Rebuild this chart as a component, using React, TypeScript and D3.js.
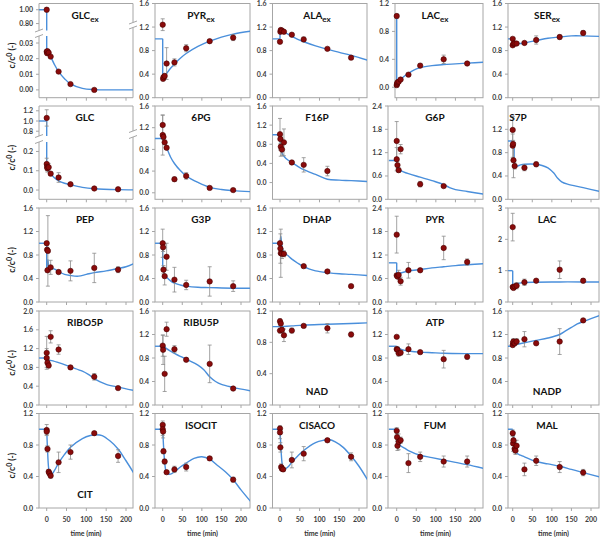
import React from 'react';
import * as d3 from 'd3';

// measured points: [time (min), c/c0, sd]; model fits: [time (min), c/c0]
const GLCex_pts = [[0, 1.0, 0.03], [0, 0.0245, 0.0008], [1, 0.0235, 0.0008], [2, 0.0248, 0.0008], [5, 0.0238, 0.0008], [10, 0.0213, 0.0007], [30, 0.0117, 0.0005], [60, 0.0037, 0.0004], [120, 0.0, 0.0003]];
const GLCex_fitHi = [[-20, 1], [0, 1], [0, 0.6]];
const GLCex_fit = [[0, 0.04], [0, 0.025], [5, 0.0236], [10, 0.0213], [20, 0.016], [30, 0.0117], [45, 0.0072], [60, 0.0038], [90, 0.001], [120, 0.0002], [160, 0], [225, 0]];

const PYRex_pts = [[0, 1.24, 0.1], [1, 0.32, 0.03], [2, 0.35, 0.03], [5, 0.37, 0.04], [10, 0.58, 0.27], [30, 0.6, 0.06], [60, 0.84, 0.06], [120, 0.96, 0.02], [180, 1.02, 0.05]];
const PYRex_fit = [[-20, 1], [0, 1], [0, 0.31], [5, 0.36], [10, 0.41], [20, 0.5], [30, 0.57], [45, 0.67], [60, 0.75], [90, 0.87], [120, 0.96], [150, 1.03], [180, 1.08], [225, 1.13]];

const ALAex_pts = [[0, 0.95, 0.02], [1, 1.12, 0.02], [2, 1.15, 0.02], [5, 1.14, 0.02], [10, 1.12, 0.02], [30, 1.07, 0.02], [60, 0.99, 0.04], [120, 0.83, 0.02], [180, 0.68, 0.03]];
const ALAex_fit = [[-20, 1], [0, 1], [0, 1.13], [5, 1.13], [10, 1.11], [20, 1.08], [30, 1.04], [45, 0.99], [60, 0.95], [90, 0.88], [120, 0.82], [150, 0.77], [180, 0.72], [225, 0.63]];

const LACex_pts = [[0, 1.02, 0.03], [0, 0.03, 0.01], [1, 0.05, 0.01], [2, 0.07, 0.01], [5, 0.08, 0.01], [10, 0.11, 0.02], [30, 0.18, 0.02], [60, 0.31, 0.03], [120, 0.4, 0.06], [180, 0.34, 0.02]];
const LACex_fit = [[-20, 1], [0, 1], [0, 0.02], [5, 0.07], [10, 0.11], [20, 0.16], [30, 0.2], [45, 0.25], [60, 0.28], [90, 0.31], [120, 0.325], [150, 0.335], [180, 0.345], [225, 0.36]];

const SERex_pts = [[0, 1.0, 0.02], [0, 0.89, 0.02], [2, 0.92, 0.02], [5, 0.92, 0.03], [10, 0.92, 0.02], [30, 0.93, 0.02], [60, 0.98, 0.07], [120, 1.03, 0.04], [180, 1.1, 0.04]];
const SERex_fit = [[-20, 1], [0, 1], [5, 0.95], [10, 0.93], [20, 0.92], [30, 0.93], [60, 0.97], [90, 1.01], [120, 1.03], [150, 1.05], [180, 1.05], [225, 1.04]];

const GLC_pts = [[0, 1.06, 0.16], [0, 0.135, 0.03], [1, 0.12, 0.02], [2, 0.113, 0.02], [5, 0.118, 0.02], [10, 0.085, 0.01], [30, 0.065, 0.025], [60, 0.03, 0.005], [120, 0.008, 0.003], [180, 0.004, 0.002]];
const GLC_fitHi = [[-20, 1], [0, 1], [0, 0.6]];
const GLC_fit = [[0, 0.3], [0, 0.14], [2, 0.115], [5, 0.1], [10, 0.085], [20, 0.062], [30, 0.048], [45, 0.035], [60, 0.027], [90, 0.014], [120, 0.007], [180, 0.002], [225, 0.001]];

const PG6_pts = [[0, 1.25, 0.18], [0, 1.065, 0.37], [2, 1.03, 0.05], [5, 0.93, 0.04], [10, 0.83, 0.03], [30, 0.25, 0.04], [60, 0.31, 0.06], [120, 0.09, 0.02], [180, 0.05, 0.02]];
const PG6_fit = [[-20, 1], [0, 1], [5, 0.93], [10, 0.83], [20, 0.66], [30, 0.54], [45, 0.41], [60, 0.31], [90, 0.19], [120, 0.1], [150, 0.06], [180, 0.04], [225, 0.02]];

const F16P_pts = [[0, 1.01, 0.33], [1, 0.91, 0.1], [2, 0.75, 0.2], [5, 0.69, 0.12], [10, 0.84, 0.28], [30, 0.42, 0.03], [60, 0.37, 0.15], [120, 0.24, 0.1]];
const F16P_fit = [[-20, 1], [0, 1], [2, 0.75], [5, 0.62], [10, 0.55], [20, 0.47], [30, 0.42], [45, 0.34], [60, 0.27], [90, 0.17], [120, 0.07], [150, 0.05], [180, 0.04], [225, 0.02]];

const G6P_pts = [[0, 1.5, 0.5], [0, 1.03, 0.3], [2, 0.88, 0.1], [5, 0.75, 0.06], [10, 1.29, 0.12], [60, 0.39, 0.07], [120, 0.34, 0.03]];
const G6P_fit = [[-20, 1], [0, 1], [0, 0.85], [5, 0.78], [10, 0.74], [30, 0.66], [60, 0.57], [90, 0.48], [120, 0.38], [135, 0.3], [150, 0.25], [180, 0.2], [225, 0.13]];

const S7P_pts = [[0, 1.19, 0.23], [0, 0.92, 0.2], [1, 0.95, 0.06], [2, 0.67, 0.3], [5, 0.57, 0.05], [30, 0.54, 0.05], [60, 0.6, 0.04]];
const S7P_fit = [[-20, 1], [0, 1], [3, 0.95], [5, 0.62], [10, 0.57], [20, 0.59], [30, 0.6], [60, 0.6], [75, 0.58], [90, 0.54], [105, 0.45], [115, 0.36], [125, 0.3], [140, 0.26], [180, 0.2], [225, 0.13]];

const PEP_pts = [[0, 1.0, 0.03], [1, 0.89, 0.03], [3, 0.87, 0.6], [2, 0.54, 0.03], [10, 0.59, 0.12], [30, 0.51, 0.03], [60, 0.53, 0.17], [120, 0.58, 0.25], [180, 0.55, 0.05]];
const PEP_fit = [[-20, 1], [0, 1], [0, 0.58], [3, 0.72], [5, 0.62], [10, 0.58], [20, 0.56], [30, 0.52], [45, 0.47], [60, 0.45], [80, 0.44], [100, 0.47], [120, 0.5], [150, 0.53], [180, 0.57], [200, 0.6], [225, 0.67]];

const G3P_pts = [[0, 1.0, 0.24], [1, 0.93, 0.07], [2, 0.55, 0.07], [5, 0.44, 0.15], [10, 0.77, 0.23], [30, 0.38, 0.21], [60, 0.29, 0.08], [120, 0.35, 0.25], [180, 0.27, 0.09]];
const G3P_fit = [[-20, 1], [0, 1], [0, 0.6], [3, 0.5], [5, 0.46], [10, 0.42], [20, 0.36], [30, 0.32], [45, 0.29], [60, 0.27], [90, 0.25], [120, 0.245], [180, 0.235], [225, 0.235]];

const DHAP_pts = [[0, 1.0, 0.03], [1, 0.91, 0.25], [2, 0.83, 0.41], [5, 0.82, 0.08], [10, 0.82, 0.05], [60, 0.61, 0.02], [120, 0.52, 0.02], [180, 0.27, 0.02]];
const DHAP_fit = [[-20, 1], [0, 1], [2, 1.12], [5, 0.95], [10, 0.85], [20, 0.79], [30, 0.73], [45, 0.66], [60, 0.6], [75, 0.56], [90, 0.53], [120, 0.5], [150, 0.48], [180, 0.47], [225, 0.45]];

const PYR_pts = [[0, 1.72, 0.47], [0, 0.68, 0.05], [2, 0.65, 0.05], [5, 0.69, 0.12], [10, 0.53, 0.1], [30, 0.81, 0.2], [60, 0.81, 0.03], [120, 1.38, 0.3], [180, 1.02, 0.08]];
const PYR_fit = [[-20, 1], [0, 1], [0, 0.68], [5, 0.72], [10, 0.74], [30, 0.79], [60, 0.83], [90, 0.87], [120, 0.9], [150, 0.93], [180, 0.95], [225, 0.98]];

const LAC_pts = [[0, 2.39, 0.44], [0, 0.48, 0.05], [2, 0.45, 0.05], [5, 0.5, 0.05], [10, 0.52, 0.1], [30, 0.63, 0.1], [60, 0.68, 0.04], [120, 1.03, 0.28], [180, 0.68, 0.07]];
const LAC_fit = [[-20, 1], [0, 1], [0, 0.52], [5, 0.56], [10, 0.59], [30, 0.62], [60, 0.63], [120, 0.64], [180, 0.64], [225, 0.64]];

const RIBO5P_pts = [[0, 1.11, 0.35], [0, 1.0, 0.2], [2, 0.9, 0.05], [5, 0.84, 0.05], [10, 1.45, 0.13], [30, 1.18, 0.1], [60, 0.8, 0.02], [120, 0.6, 0.07], [180, 0.36, 0.02]];
const RIBO5P_fit = [[-20, 1], [0, 1], [0, 0.93], [5, 0.95], [10, 0.95], [30, 0.9], [60, 0.81], [90, 0.72], [105, 0.65], [120, 0.56], [135, 0.49], [150, 0.44], [180, 0.38], [225, 0.3]];

const RIBU5P_pts = [[0, 1.01, 0.18], [1, 0.94, 0.25], [5, 0.53, 0.3], [10, 1.29, 0.12], [30, 0.95, 0.06], [60, 0.77, 0.03], [120, 0.7, 0.32], [180, 0.28, 0.02]];
const RIBU5P_fit = [[-20, 1], [0, 1], [5, 0.99], [10, 0.96], [30, 0.88], [60, 0.78], [90, 0.68], [105, 0.6], [120, 0.48], [135, 0.4], [150, 0.35], [180, 0.3], [225, 0.24]];

const NAD_pts = [[0, 1.07, 0.03], [2, 1.04, 0.03], [0, 0.95, 0.03], [5, 0.96, 0.03], [10, 0.89, 0.08], [30, 0.95, 0.03], [60, 1.01, 0.02], [120, 0.98, 0.06], [180, 0.9, 0.03]];
const NAD_fit = [[-20, 1], [0, 1], [30, 1.01], [60, 1.02], [120, 1.03], [180, 1.04], [225, 1.05]];

const ATP_pts = [[0, 1.16, 0.02], [0, 0.95, 0.04], [2, 0.94, 0.05], [5, 0.88, 0.05], [10, 0.89, 0.04], [30, 0.95, 0.09], [60, 0.9, 0.02], [120, 0.78, 0.15], [180, 0.82, 0.04]];
const ATP_fit = [[-20, 1], [0, 1], [5, 0.98], [10, 0.95], [20, 0.93], [30, 0.92], [60, 0.9], [90, 0.89], [120, 0.88], [180, 0.875], [225, 0.875]];

const NADP_pts = [[0, 1.02, 0.03], [1, 1.06, 0.05], [2, 1.08, 0.05], [5, 1.05, 0.04], [10, 1.08, 0.05], [30, 1.12, 0.13], [60, 1.05, 0.02], [120, 1.08, 0.22], [180, 1.44, 0.02]];
const NADP_fit = [[-20, 1], [0, 1], [10, 1.03], [30, 1.06], [60, 1.1], [90, 1.14], [120, 1.2], [135, 1.26], [150, 1.32], [165, 1.38], [180, 1.42], [200, 1.47], [225, 1.53]];

const CIT_pts = [[0, 0.99, 0.07], [0, 0.97, 0.04], [2, 0.75, 0.04], [5, 0.46, 0.03], [7, 0.44, 0.03], [10, 0.41, 0.03], [30, 0.58, 0.13], [60, 0.71, 0.09], [120, 0.95, 0.02], [180, 0.66, 0.08]];
const CIT_fit = [[-20, 1], [0, 1], [2, 0.75], [5, 0.5], [8, 0.43], [10, 0.42], [15, 0.44], [20, 0.48], [30, 0.57], [45, 0.68], [60, 0.77], [90, 0.88], [110, 0.92], [125, 0.93], [140, 0.92], [160, 0.85], [180, 0.75], [200, 0.6], [225, 0.4]];

const ISOCIT_pts = [[0, 1.055, 0.05], [0, 1.0, 0.08], [1, 0.97, 0.08], [2, 0.72, 0.03], [5, 0.59, 0.03], [10, 0.455, 0.02], [30, 0.49, 0.04], [60, 0.52, 0.05], [120, 0.63, 0.02], [180, 0.36, 0.03]];
const ISOCIT_fit = [[-20, 1], [0, 1], [2, 0.8], [5, 0.58], [8, 0.47], [10, 0.44], [20, 0.43], [30, 0.46], [45, 0.52], [60, 0.57], [80, 0.63], [100, 0.65], [120, 0.62], [140, 0.54], [160, 0.46], [180, 0.36], [200, 0.23], [225, 0.08]];

const CISACO_pts = [[0, 1.01, 0.03], [0, 0.96, 0.08], [1, 0.77, 0.06], [3, 0.52, 0.04], [5, 0.5, 0.03], [8, 0.49, 0.02], [30, 0.61, 0.1], [60, 0.69, 0.09], [120, 0.86, 0.02], [180, 0.65, 0.05]];
const CISACO_fit = [[-20, 1], [0, 1], [2, 0.8], [5, 0.58], [8, 0.5], [10, 0.49], [20, 0.52], [30, 0.58], [45, 0.66], [60, 0.73], [90, 0.83], [110, 0.86], [125, 0.87], [140, 0.84], [160, 0.77], [180, 0.66], [200, 0.53], [225, 0.33]];

const FUM_pts = [[0, 0.98, 0.04], [1, 0.9, 0.05], [2, 0.79, 0.06], [5, 0.84, 0.1], [10, 0.86, 0.04], [30, 0.57, 0.12], [60, 0.65, 0.06], [120, 0.59, 0.07], [180, 0.59, 0.07]];
const FUM_fit = [[-20, 1], [0, 1], [2, 0.92], [5, 0.84], [10, 0.79], [20, 0.76], [30, 0.73], [60, 0.67], [90, 0.64], [120, 0.61], [150, 0.58], [180, 0.55], [225, 0.5]];

const MAL_pts = [[0, 0.95, 0.04], [1, 0.82, 0.1], [2, 0.86, 0.1], [5, 0.75, 0.05], [7, 0.73, 0.05], [10, 0.79, 0.07], [30, 0.49, 0.08], [60, 0.6, 0.06], [120, 0.52, 0.07], [180, 0.45, 0.04]];
const MAL_fit = [[-20, 1], [0, 1], [2, 0.93], [5, 0.8], [10, 0.7], [20, 0.67], [30, 0.65], [60, 0.59], [90, 0.56], [120, 0.53], [150, 0.49], [180, 0.45], [225, 0.39]];

const X_TICKS = [0, 50, 100, 150, 200];
const T16 = [0, 0.4, 0.8, 1.2, 1.6];
const T12 = [0, 0.4, 0.8, 1.2];
const T24 = [0, 0.6, 1.2, 1.8, 2.4];

const PANELS = [
  { id: 'GLCex', name: 'GLC', sub: 'ex', row: 0, col: 0, fmt: '.2f', bands: [{ domain: [-0.005, 0.0345], ticks: [0, 0.01, 0.02, 0.03] }, { domain: [0.7, 1.09], ticks: [0.8, 1.0] }], pts: GLCex_pts, fits: [GLCex_fit, GLCex_fitHi] },
  { id: 'PYRex', name: 'PYR', sub: 'ex', row: 0, col: 1, bands: [{ domain: [0, 1.6], ticks: T16 }], pts: PYRex_pts, fits: [PYRex_fit] },
  { id: 'ALAex', name: 'ALA', sub: 'ex', row: 0, col: 2, bands: [{ domain: [0, 1.6], ticks: T16 }], pts: ALAex_pts, fits: [ALAex_fit] },
  { id: 'LACex', name: 'LAC', sub: 'ex', row: 0, col: 3, bands: [{ domain: [-0.15, 1.2], ticks: T12 }], pts: LACex_pts, fits: [LACex_fit] },
  { id: 'SERex', name: 'SER', sub: 'ex', row: 0, col: 4, bands: [{ domain: [0, 1.6], ticks: T16 }], pts: SERex_pts, fits: [SERex_fit] },
  { id: 'GLC', name: 'GLC', row: 1, col: 0, bands: [{ domain: [-0.048, 0.249], ticks: [0, 0.1, 0.2] }, { domain: [0.706, 1.294], ticks: [0.8, 1.0, 1.2] }], pts: GLC_pts, fits: [GLC_fit, GLC_fitHi] },
  { id: '6PG', name: '6PG', row: 1, col: 1, bands: [{ domain: [-0.12, 1.6], ticks: T16 }], pts: PG6_pts, fits: [PG6_fit] },
  { id: 'F16P', name: 'F16P', row: 1, col: 2, bands: [{ domain: [-0.35, 1.6], ticks: T16 }], pts: F16P_pts, fits: [F16P_fit] },
  { id: 'G6P', name: 'G6P', row: 1, col: 3, bands: [{ domain: [0, 2.4], ticks: T24 }], pts: G6P_pts, fits: [G6P_fit] },
  { id: 'S7P', name: 'S7P', row: 1, col: 4, bands: [{ domain: [0, 1.6], ticks: T12 }], pts: S7P_pts, fits: [S7P_fit] },
  { id: 'PEP', name: 'PEP', row: 2, col: 0, bands: [{ domain: [0, 1.6], ticks: T16 }], pts: PEP_pts, fits: [PEP_fit] },
  { id: 'G3P', name: 'G3P', row: 2, col: 1, bands: [{ domain: [0, 1.6], ticks: T16 }], pts: G3P_pts, fits: [G3P_fit] },
  { id: 'DHAP', name: 'DHAP', row: 2, col: 2, bands: [{ domain: [0, 1.6], ticks: T16 }], pts: DHAP_pts, fits: [DHAP_fit] },
  { id: 'PYR', name: 'PYR', row: 2, col: 3, bands: [{ domain: [0, 2.4], ticks: T24 }], pts: PYR_pts, fits: [PYR_fit] },
  { id: 'LAC', name: 'LAC', row: 2, col: 4, fmt: 'd', bands: [{ domain: [0, 3], ticks: [0, 1, 2, 3] }], pts: LAC_pts, fits: [LAC_fit] },
  { id: 'RIBO5P', name: 'RIBO5P', row: 3, col: 0, bands: [{ domain: [0, 2], ticks: [0, 0.4, 0.8, 1.2, 1.6, 2.0] }], pts: RIBO5P_pts, fits: [RIBO5P_fit] },
  { id: 'RIBU5P', name: 'RIBU5P', row: 3, col: 1, bands: [{ domain: [0, 1.6], ticks: T16 }], pts: RIBU5P_pts, fits: [RIBU5P_fit] },
  { id: 'NAD', name: 'NAD', row: 3, col: 2, bands: [{ domain: [0, 1.2], ticks: T12 }], pts: NAD_pts, fits: [NAD_fit] },
  { id: 'ATP', name: 'ATP', row: 3, col: 3, bands: [{ domain: [0, 1.6], ticks: T16 }], pts: ATP_pts, fits: [ATP_fit] },
  { id: 'NADP', name: 'NADP', row: 3, col: 4, bands: [{ domain: [0, 1.6], ticks: T16 }], pts: NADP_pts, fits: [NADP_fit] },
  { id: 'CIT', name: 'CIT', row: 4, col: 0, bands: [{ domain: [0, 1.2], ticks: T12 }], pts: CIT_pts, fits: [CIT_fit] },
  { id: 'ISOCIT', name: 'ISOCIT', row: 4, col: 1, bands: [{ domain: [0, 1.2], ticks: T12 }], pts: ISOCIT_pts, fits: [ISOCIT_fit] },
  { id: 'CISACO', name: 'CISACO', row: 4, col: 2, bands: [{ domain: [0, 1.2], ticks: T12 }], pts: CISACO_pts, fits: [CISACO_fit] },
  { id: 'FUM', name: 'FUM', row: 4, col: 3, bands: [{ domain: [0, 1.2], ticks: T12 }], pts: FUM_pts, fits: [FUM_fit] },
  { id: 'MAL', name: 'MAL', row: 4, col: 4, bands: [{ domain: [0, 1.2], ticks: T12 }], pts: MAL_pts, fits: [MAL_fit] },
];

// grid layout (px)
const COLS = [
  { left: 39, x0: 46.7, x200: 126, right: 133, title: 85 },
  { left: 155, x0: 162.7, x200: 241, right: 250, title: 201 },
  { left: 272.5, x0: 280, x200: 359, right: 367, title: 317 },
  { left: 388, x0: 396.7, x200: 475, right: 483, title: 435 },
  { left: 508, x0: 512.7, x200: 591, right: 599, title: 547 },
];
const ROWS = [
  { top: 3.5, bottom: 97.7 },
  { top: 106, bottom: 199.3 },
  { top: 208, bottom: 302 },
  { top: 311, bottom: 405 },
  { top: 413.5, bottom: 508 },
];
const OVERRIDES = { LACex: { left: 395 }, S7P: { title: 518 } };
const BREAKS = { GLCex: { hiEnd: 27, loStart: 32.5, rGap: [19, 24] }, GLC: { hiEnd: 30, loStart: 36, rGap: [25, 31] } };
const TITLE_BOTTOM = ['NAD', 'NADP', 'CIT'];

const FONT = 'Lato, "Liberation Sans", sans-serif';
const AXIS = '#a6a6a6';
const BLUE = '#4a8fdb';
const DOT = '#8a0b0b';

// break a fit into pieces at t = 0 and at vertical jumps, so steps stay sharp
function pieces(fit) {
  const out = [];
  let cur = [fit[0]];
  for (let i = 1; i < fit.length; i++) {
    const prev = fit[i - 1], d = fit[i];
    if (d[0] === prev[0]) {
      if (cur.length > 1) out.push(cur);
      out.push([prev, d]);
      cur = [d];
    } else {
      cur.push(d);
      if (d[0] === 0) { out.push(cur); cur = [d]; }
    }
  }
  if (cur.length > 1) out.push(cur);
  return out;
}

function Panel({ p }) {
  const c = { ...COLS[p.col], ...(OVERRIDES[p.id] || {}) };
  const r = ROWS[p.row];
  const x = d3.scaleLinear().domain([0, 200]).range([c.x0, c.x200]);
  const fmt = d3.format(p.fmt || '.1f');
  const br = BREAKS[p.id];

  // pixel extent of each band (lower first)
  const extents = br
    ? [[r.top + br.loStart, r.bottom], [r.top, r.top + br.hiEnd]]
    : [[r.top, r.bottom]];
  const scales = p.bands.map((b, i) =>
    d3.scaleLinear().domain(b.domain).range([extents[i][1], extents[i][0]])
  );
  const bandOf = v => (p.bands.length > 1 && v > p.bands[0].domain[1] ? 1 : 0);

  const frame = [];
  if (br) {
    const lo = extents[0], hi = extents[1];
    frame.push([c.left, r.top, c.right, r.top], [c.left, r.bottom, c.right, r.bottom]);
    frame.push([c.left, hi[0], c.left, hi[1]], [c.left, lo[0], c.left, lo[1]]);
    frame.push([c.right, r.top, c.right, r.top + br.rGap[0]], [c.right, r.top + br.rGap[1], c.right, r.bottom]);
    const slash = (ax, g0, g1) => {
      frame.push([ax - 4, g0 + 1.5, ax + 4, g0 - 1.5], [ax - 4, g1 + 1.5, ax + 4, g1 - 1.5]);
    };
    slash(c.left, hi[1], lo[0]);
    slash(c.right, r.top + br.rGap[0], r.top + br.rGap[1]);
  }

  const titleY = TITLE_BOTTOM.includes(p.id) ? r.bottom - 10 : r.top + 15;

  return (
    <g>
      <defs>
        {extents.map((e, i) => (
          <clipPath key={i} id={`clip-${p.id}-${i}`}>
            <rect x={c.left} y={e[0]} width={c.right - c.left} height={e[1] - e[0]} />
          </clipPath>
        ))}
      </defs>
      {br ? (
        frame.map((l, i) => <line key={i} x1={l[0]} y1={l[1]} x2={l[2]} y2={l[3]} stroke={AXIS} strokeWidth={1} />)
      ) : (
        <rect x={c.left} y={r.top} width={c.right - c.left} height={r.bottom - r.top} fill="none" stroke={AXIS} strokeWidth={1} />
      )}
      {p.bands.map((b, i) =>
        b.ticks.map(t => (
          <g key={`${i}-${t}`}>
            <line x1={c.left - 3} x2={c.left} y1={scales[i](t)} y2={scales[i](t)} stroke={AXIS} />
            <text x={c.left - 6} y={scales[i](t) + 2.5} textAnchor="end" fontSize={7} fontWeight="bold" fill="#404040">{fmt(t)}</text>
          </g>
        ))
      )}
      {X_TICKS.map(t => (
        <g key={t}>
          <line x1={x(t)} x2={x(t)} y1={r.bottom} y2={r.bottom + 3} stroke={AXIS} />
          {p.row === 4 && (
            <text x={x(t)} y={r.bottom + 13.5} textAnchor="middle" fontSize={7} fontWeight="bold" fill="#404040">{t}</text>
          )}
        </g>
      ))}
      {p.row === 4 && (
        <text x={(c.left + c.right) / 2} y={r.bottom + 27.5} textAnchor="middle" fontSize={7} fontWeight="bold" fill="#333">time (min)</text>
      )}
      {p.fits.map((f, i) => {
        const line = d3.line().x(d => x(d[0])).y(d => scales[i](d[1])).curve(d3.curveCatmullRom.alpha(0.5));
        return (
          <g key={i} clipPath={`url(#clip-${p.id}-${i})`}>
            {pieces(f).map((seg, k) => (
              <path key={k} d={line(seg)} fill="none" stroke={BLUE} strokeWidth={1.4} strokeLinejoin="round" />
            ))}
          </g>
        );
      })}
      {p.pts.map((d, i) => {
        const y = scales[bandOf(d[1])];
        const cx = x(d[0]);
        const y1 = y(d[1] + d[2]), y2 = y(d[1] - d[2]);
        return (
          <g key={i} stroke="#8c8c8c" strokeWidth={0.8}>
            <line x1={cx} x2={cx} y1={y1} y2={y2} />
            <line x1={cx - 2} x2={cx + 2} y1={y1} y2={y1} />
            <line x1={cx - 2} x2={cx + 2} y1={y2} y2={y2} />
          </g>
        );
      })}
      {p.pts.map((d, i) => (
        <circle key={i} cx={x(d[0])} cy={scales[bandOf(d[1])](d[1])} r={2.7} fill={DOT} stroke="#4a0000" strokeWidth={0.6} />
      ))}
      <text x={c.title} y={titleY} textAnchor="middle" fontSize={10} fontWeight="bold" fill="#111">
        {p.name}
        {p.sub && <tspan dy={3} fontSize={8}>{p.sub}</tspan>}
      </text>
    </g>
  );
}

export default function App() {
  return (
    <svg width={600} height={537} style={{ position: 'absolute', left: 0, top: 0, background: '#fff' }} fontFamily={FONT}>
      {ROWS.map((r, i) => (
        <text key={i} transform={`translate(15,${(r.top + r.bottom) / 2 + 5}) rotate(-90)`} textAnchor="middle" fontSize={8.5} fontWeight="bold" fill="#222">
          c/c<tspan dy={-3} fontSize={7}>0</tspan><tspan dy={3}> (-)</tspan>
        </text>
      ))}
      {PANELS.map(p => <Panel key={p.id} p={p} />)}
    </svg>
  );
}
